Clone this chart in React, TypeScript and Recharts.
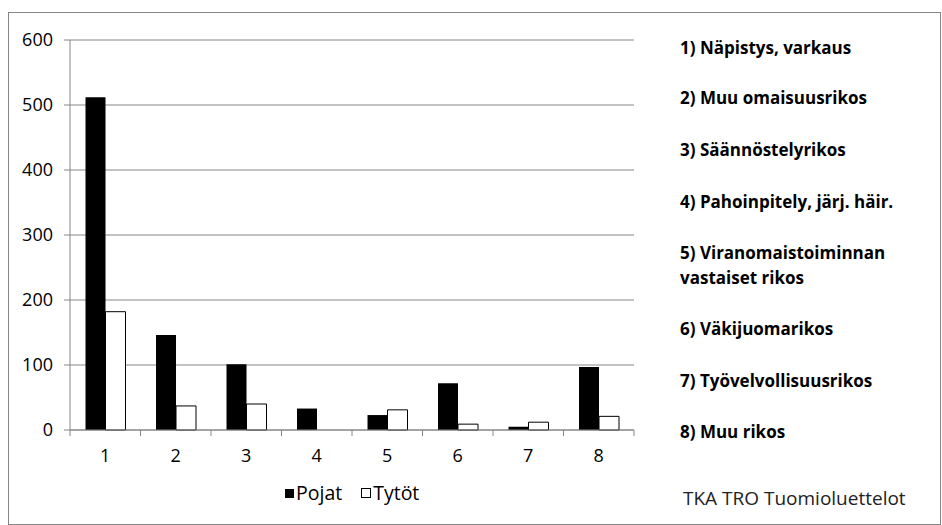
import React from 'react';
import { BarChart, Bar, XAxis, YAxis, CartesianGrid } from 'recharts';

const categories = ['1', '2', '3', '4', '5', '6', '7', '8'];
const pojat = [512, 146, 101, 33, 23, 72, 5, 97];
const tytot = [182, 37, 40, 0, 31, 9, 12, 21];
const yTicks = [0, 100, 200, 300, 400, 500, 600];
const crimeLabels = [
  ['1) Näpistys, varkaus'],
  ['2) Muu omaisuusrikos'],
  ['3) Säännöstelyrikos'],
  ['4) Pahoinpitely, järj. häir.'],
  ['5) Viranomaistoiminnan', 'vastaiset rikos'],
  ['6) Väkijuomarikos'],
  ['7) Työvelvollisuusrikos'],
  ['8) Muu rikos'],
];
const labelCenters = [47, 97, 149, 201, 252, 328, 380, 431];
const sourceText = 'TKA TRO Tuomioluettelot';

const data = categories.map((c, i) => ({ cat: c, Pojat: pojat[i], 'Tytöt': tytot[i] }));

const W = 942;
const H = 525;
const PLOT_LEFT = 70;
const PLOT_RIGHT = 634;
const PLOT_TOP = 40;
const PLOT_BOTTOM = 430;
const BAND = (PLOT_RIGHT - PLOT_LEFT) / categories.length;
const GRID = '#868686';
const FONT = '"Open Sans", Lato, sans-serif';
const LINE_H = 25;

const XTick = (props: any) => {
  const { x, payload, index } = props;
  const isLast = index === categories.length - 1;
  return (
    <g>
      <line x1={x - BAND / 2} x2={x - BAND / 2} y1={PLOT_BOTTOM} y2={PLOT_BOTTOM + 6} stroke={GRID} />
      {isLast && (
        <line x1={x + BAND / 2} x2={x + BAND / 2} y1={PLOT_BOTTOM} y2={PLOT_BOTTOM + 6} stroke={GRID} />
      )}
      <text x={x} y={PLOT_BOTTOM + 32} textAnchor="middle" fontSize={18} fill="#000" fontFamily={FONT}>
        {payload.value}
      </text>
    </g>
  );
};

export default function App() {
  return (
    <div style={{ position: 'absolute', left: 0, top: 0, width: W, height: H, background: '#fff', fontFamily: FONT }}>
      <style>{'body{margin:0}'}</style>
      <div
        style={{
          position: 'absolute',
          left: 8,
          top: 12,
          width: W - 8 - 1,
          height: H - 12,
          border: `1.5px solid ${GRID}`,
          boxSizing: 'border-box',
        }}
      />
      <div style={{ position: 'absolute', left: 0, top: 0 }}>
        <BarChart
          width={W}
          height={H}
          data={data}
          margin={{ top: PLOT_TOP, right: W - PLOT_RIGHT, bottom: 0, left: 0 }}
          barCategoryGap="22%"
          barGap={0}
        >
          <CartesianGrid vertical={false} stroke={GRID} strokeWidth={1} />
          <XAxis
            dataKey="cat"
            axisLine={{ stroke: GRID }}
            tickLine={false}
            tick={<XTick />}
            interval={0}
            height={H - PLOT_BOTTOM}
          />
          <YAxis
            width={PLOT_LEFT}
            domain={[0, 600]}
            ticks={yTicks}
            axisLine={{ stroke: GRID }}
            tickLine={{ stroke: GRID }}
            tickSize={6}
            tickMargin={11}
            tick={{ fill: '#000', fontSize: 18, fontFamily: FONT }}
          />
          <Bar dataKey="Pojat" fill="#000" isAnimationActive={false} />
          <Bar dataKey="Tytöt" fill="#fff" stroke="#000" strokeWidth={1} isAnimationActive={false} />
        </BarChart>
      </div>
      <div
        style={{
          position: 'absolute',
          top: 493 - 12,
          left: 285,
          display: 'flex',
          alignItems: 'center',
          fontSize: 19.5,
          lineHeight: '24px',
          color: '#000',
        }}
      >
        <span style={{ display: 'inline-block', width: 9, height: 9, background: '#000', marginRight: 2 }} />
        <span style={{ marginRight: 19 }}>Pojat</span>
        <span
          style={{
            display: 'inline-block',
            width: 8,
            height: 8,
            background: '#fff',
            border: '1px solid #000',
            marginRight: 2,
          }}
        />
        <span>Tytöt</span>
      </div>
      {crimeLabels.map((lines, i) => (
        <div
          key={i}
          style={{
            position: 'absolute',
            left: 680,
            top: labelCenters[i] - LINE_H / 2,
            fontSize: 17,
            fontWeight: 700,
            lineHeight: `${LINE_H}px`,
            color: '#000',
            whiteSpace: 'nowrap',
          }}
        >
          {lines.map((l, j) => (
            <div key={j}>{l}</div>
          ))}
        </div>
      ))}
      <div
        style={{
          position: 'absolute',
          left: 683,
          top: 498 - 13,
          fontSize: 19,
          lineHeight: '26px',
          color: '#222',
          whiteSpace: 'nowrap',
        }}
      >
        {sourceText}
      </div>
    </div>
  );
}
